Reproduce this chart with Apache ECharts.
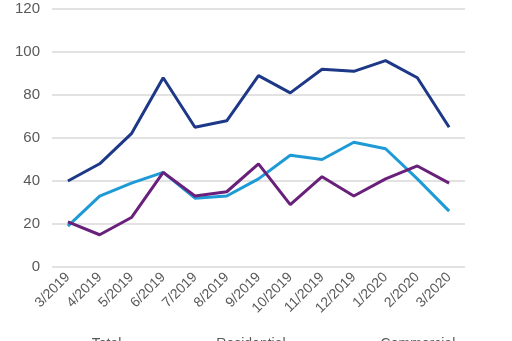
<!DOCTYPE html>
<html>
<head>
<meta charset="utf-8">
<script src="https://cdn.jsdelivr.net/npm/echarts@6/dist/echarts.min.js"></script>
<style>
  html, body { margin: 0; padding: 0; background: #fff; }
  #chart { width: 512px; height: 341px; }
</style>
</head>
<body>
<div id="chart"></div>
<script>
// Monthly categories, March 2019 to March 2020
const months = ['3/2019', '4/2019', '5/2019', '6/2019', '7/2019', '8/2019', '9/2019',
  '10/2019', '11/2019', '12/2019', '1/2020', '2/2020', '3/2020'];

const seriesNames = ['Total', 'Residential', 'Commercial'];
const totalValues = [40, 48, 62, 88, 65, 68, 89, 81, 92, 91, 96, 88, 65];
const residentialValues = [19, 33, 39, 44, 32, 33, 41, 52, 50, 58, 55, 41, 26];
const commercialValues = [21, 15, 23, 44, 33, 35, 48, 29, 42, 33, 41, 47, 39];

const colors = ['#1c3887', '#1e9ad6', '#69207a'];

const chart = echarts.init(document.getElementById('chart'));

function lineSeries(name, data, color) {
  return {
    name: name,
    type: 'line',
    data: data,
    symbol: 'none',
    smooth: false,
    lineStyle: { width: 3, color: color },
    itemStyle: { color: color }
  };
}

chart.setOption({
  animation: false,
  grid: { left: 52, right: 47, top: 9, bottom: 74, containLabel: false },
  legend: {
    bottom: -15,
    left: 'center',
    itemWidth: 30,
    itemGap: 60,
    icon: 'path://M0,0H30V3H0Z',
    textStyle: { color: '#595959', fontSize: 14, fontFamily: 'Liberation Sans, Arial, sans-serif' },
    data: seriesNames
  },
  xAxis: {
    type: 'category',
    data: months,
    boundaryGap: true,
    axisLine: { show: false },
    axisTick: { show: false },
    axisLabel: {
      rotate: 45,
      interval: 0,
      margin: 8,
      color: '#595959',
      fontSize: 14,
      fontFamily: 'Liberation Sans, Arial, sans-serif'
    }
  },
  yAxis: {
    type: 'value',
    min: 0,
    max: 120,
    interval: 20,
    axisLine: { show: false },
    axisTick: { show: false },
    axisLabel: {
      margin: 12,
      color: '#595959',
      fontSize: 15,
      fontFamily: 'Liberation Sans, Arial, sans-serif'
    },
    splitLine: { lineStyle: { color: '#d9d9d9', width: 1.5 } }
  },
  series: [
    lineSeries(seriesNames[0], totalValues, colors[0]),
    lineSeries(seriesNames[1], residentialValues, colors[1]),
    lineSeries(seriesNames[2], commercialValues, colors[2])
  ]
});
</script>
</body>
</html>
